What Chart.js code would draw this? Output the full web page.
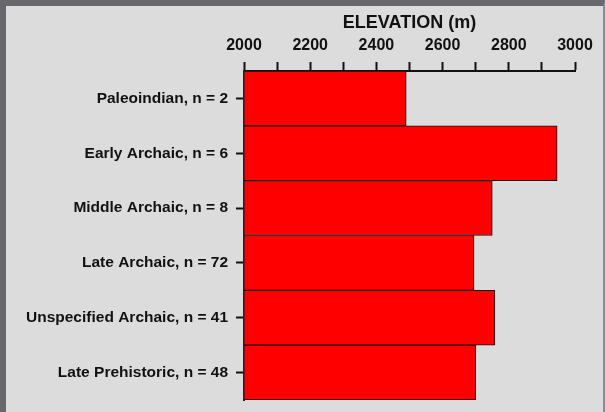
<!DOCTYPE html>
<html>
<head>
<meta charset="utf-8">
<script src="https://cdn.jsdelivr.net/npm/chart.js@4/dist/chart.umd.min.js"></script>
<style>
  html, body { margin: 0; padding: 0; }
  body { width: 605px; height: 412px; overflow: hidden; background: #dcdcdc; }
  #frame {
    box-sizing: border-box;
    width: 605px; height: 412px;
    border-top: 6px solid #68676c;
    border-left: 6px solid #68676c;
    border-right: 2px solid #8a898e;
    background: #dcdcdc;
  }
  canvas { display: block; }
</style>
</head>
<body>
<div id="frame"><canvas id="barChart" width="597" height="406"></canvas></div>
<script>
  // elevation data per period
  const periods = [
    "Paleoindian, n = 2",
    "Early Archaic, n = 6",
    "Middle Archaic, n = 8",
    "Late Archaic, n = 72",
    "Unspecified Archaic, n = 41",
    "Late Prehistoric, n = 48"
  ];
  const elevations = [2490, 2946, 2750, 2695, 2758, 2700];
  const axisMin = 2000;
  const axisMax = 3000;

  const ctx = document.getElementById("barChart").getContext("2d");
  Chart.defaults.font.family = "'Liberation Sans', Arial, sans-serif";
  Chart.defaults.color = "#111";

  new Chart(ctx, {
    type: "bar",
    data: {
      labels: periods,
      datasets: [{
        data: elevations,
        base: axisMin,
        backgroundColor: "#ff0000",
        borderColor: "#111",
        borderWidth: 1,
        barPercentage: 1,
        categoryPercentage: 1
      }]
    },
    options: {
      indexAxis: "y",
      responsive: false,
      animation: false,
      layout: { padding: { top: 0, right: 28, bottom: 12, left: 0 } },
      plugins: { legend: { display: false }, tooltip: { enabled: false } },
      scales: {
        x: {
          position: "top",
          min: axisMin,
          max: axisMax,
          afterFit: function (scale) { scale.height = 65; },
          title: {
            display: true,
            text: "ELEVATION (m)",
            font: { size: 18, weight: "bold" },
            color: "#111",
            padding: { top: 6, bottom: 0 }
          },
          ticks: {
            stepSize: 100,
            autoSkip: false,
            maxRotation: 0,
            padding: 7,
            font: { size: 16, weight: "bold" },
            color: "#111",
            callback: function (v) { return v % 200 === 0 ? v : ""; }
          },
          grid: {
            drawOnChartArea: false,
            drawTicks: true,
            tickLength: 9,
            tickWidth: 2,
            tickColor: "#111"
          },
          border: { display: true, color: "#111", width: 2 }
        },
        y: {
          afterFit: function (scale) {
            scale.width = 238;
            scale.paddingTop = 0;
            scale.paddingBottom = 0;
          },
          ticks: {
            padding: 8,
            autoSkip: false,
            font: { size: 15.5, weight: "bold" },
            color: "#111"
          },
          grid: {
            drawOnChartArea: false,
            offset: false,
            tickLength: 8,
            tickWidth: 2,
            tickColor: "#111"
          },
          border: { display: true, color: "#222", width: 2 }
        }
      }
    }
  });
</script>
</body>
</html>
